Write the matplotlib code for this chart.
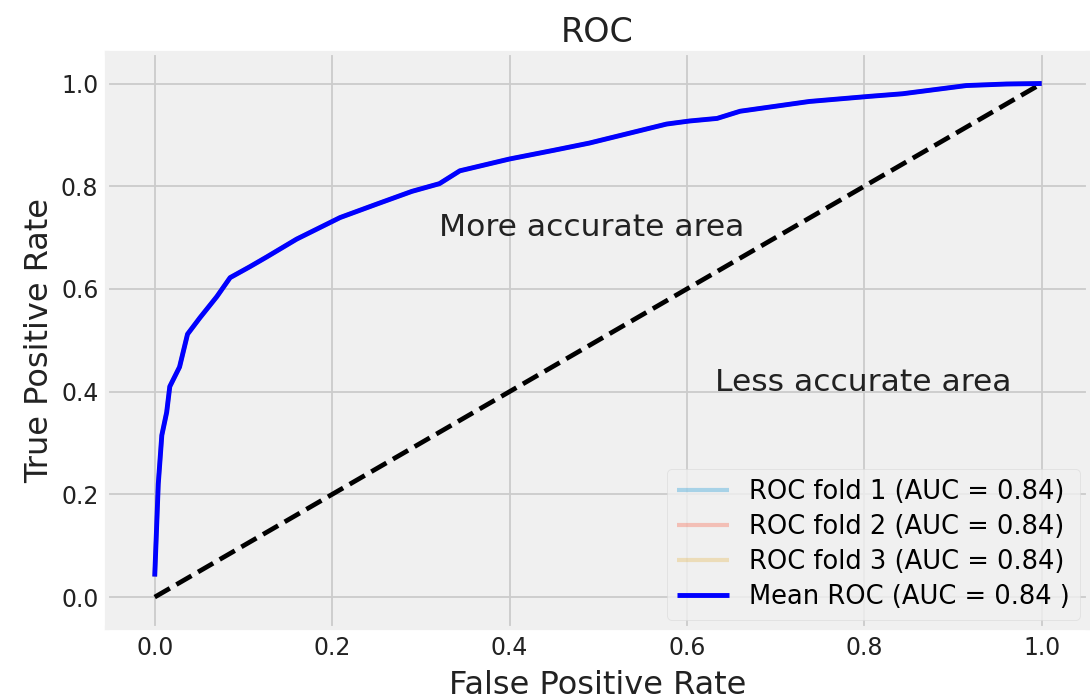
import matplotlib
matplotlib.use("Agg")
import matplotlib.pyplot as plt

plt.style.use("fivethirtyeight")

# mean ROC curve (false positive rate / true positive rate)
mean_fpr = [0.0, 0.004, 0.008, 0.0135, 0.017, 0.028, 0.037, 0.051, 0.07, 0.085,
            0.107, 0.126, 0.16, 0.209, 0.25, 0.29, 0.321, 0.344, 0.40, 0.45,
            0.49, 0.577, 0.603, 0.634, 0.66, 0.738, 0.806, 0.843, 0.915, 0.96, 1.0]
mean_tpr = [0.04, 0.22, 0.315, 0.36, 0.41, 0.448, 0.512, 0.544, 0.585, 0.622,
            0.643, 0.662, 0.697, 0.739, 0.765, 0.79, 0.805, 0.83, 0.853, 0.87,
            0.884, 0.921, 0.927, 0.932, 0.946, 0.965, 0.975, 0.98, 0.996, 0.999, 1.0]
mean_auc = 0.84

# per-fold curves (they lie on the mean curve)
fold_labels = ["ROC fold 1", "ROC fold 2", "ROC fold 3"]
fold_aucs = [0.84, 0.84, 0.84]
fold_tprs = [mean_tpr, mean_tpr, mean_tpr]

fig, ax = plt.subplots(figsize=(10.9, 7), dpi=100)
fig.patch.set_facecolor("white")
ax.set_facecolor("#f0f0f0")

for lab, auc, tpr in zip(fold_labels, fold_aucs, fold_tprs):
    ax.plot(mean_fpr, tpr, lw=3, alpha=0.3, label="%s (AUC = %0.2f)" % (lab, auc))

ax.plot([0, 1], [0, 1], linestyle="--", lw=3.4, color="black")
ax.plot(mean_fpr, mean_tpr, color="b", lw=3.5,
        label=r"Mean ROC (AUC = %0.2f )" % mean_auc)

ax.text(0.32, 0.72, "More accurate area", fontsize=22.6, va="center", color="#222222")
ax.text(0.632, 0.418, "Less accurate area", fontsize=22.6, va="center", color="#222222")

ax.set_xlim(-0.054, 1.052)
ax.set_ylim(-0.06, 1.059)
ax.set_xticks([0.0, 0.2, 0.4, 0.6, 0.8, 1.0])
ax.set_yticks([0.0, 0.2, 0.4, 0.6, 0.8, 1.0])
ax.tick_params(labelsize=17, colors="#222222", pad=6)
ax.grid(True, color="#cbcbcb", lw=1.3)

ax.set_xlabel("False Positive Rate", fontsize=23, color="#222222", labelpad=7)
ax.set_ylabel("True Positive Rate", fontsize=23, color="#222222", labelpad=4)
ax.set_title("ROC", fontsize=24, color="#222222", pad=8)

leg = ax.legend(loc="lower right", fontsize=18.5, frameon=True, borderaxespad=0.3,
                labelspacing=0.35)
leg.get_frame().set_facecolor("#f0f0f0")
leg.get_frame().set_edgecolor("#d8d8d8")

fig.subplots_adjust(left=0.098, right=0.998, bottom=0.103, top=0.924)
fig.savefig("out.png", dpi=100, facecolor="white")
